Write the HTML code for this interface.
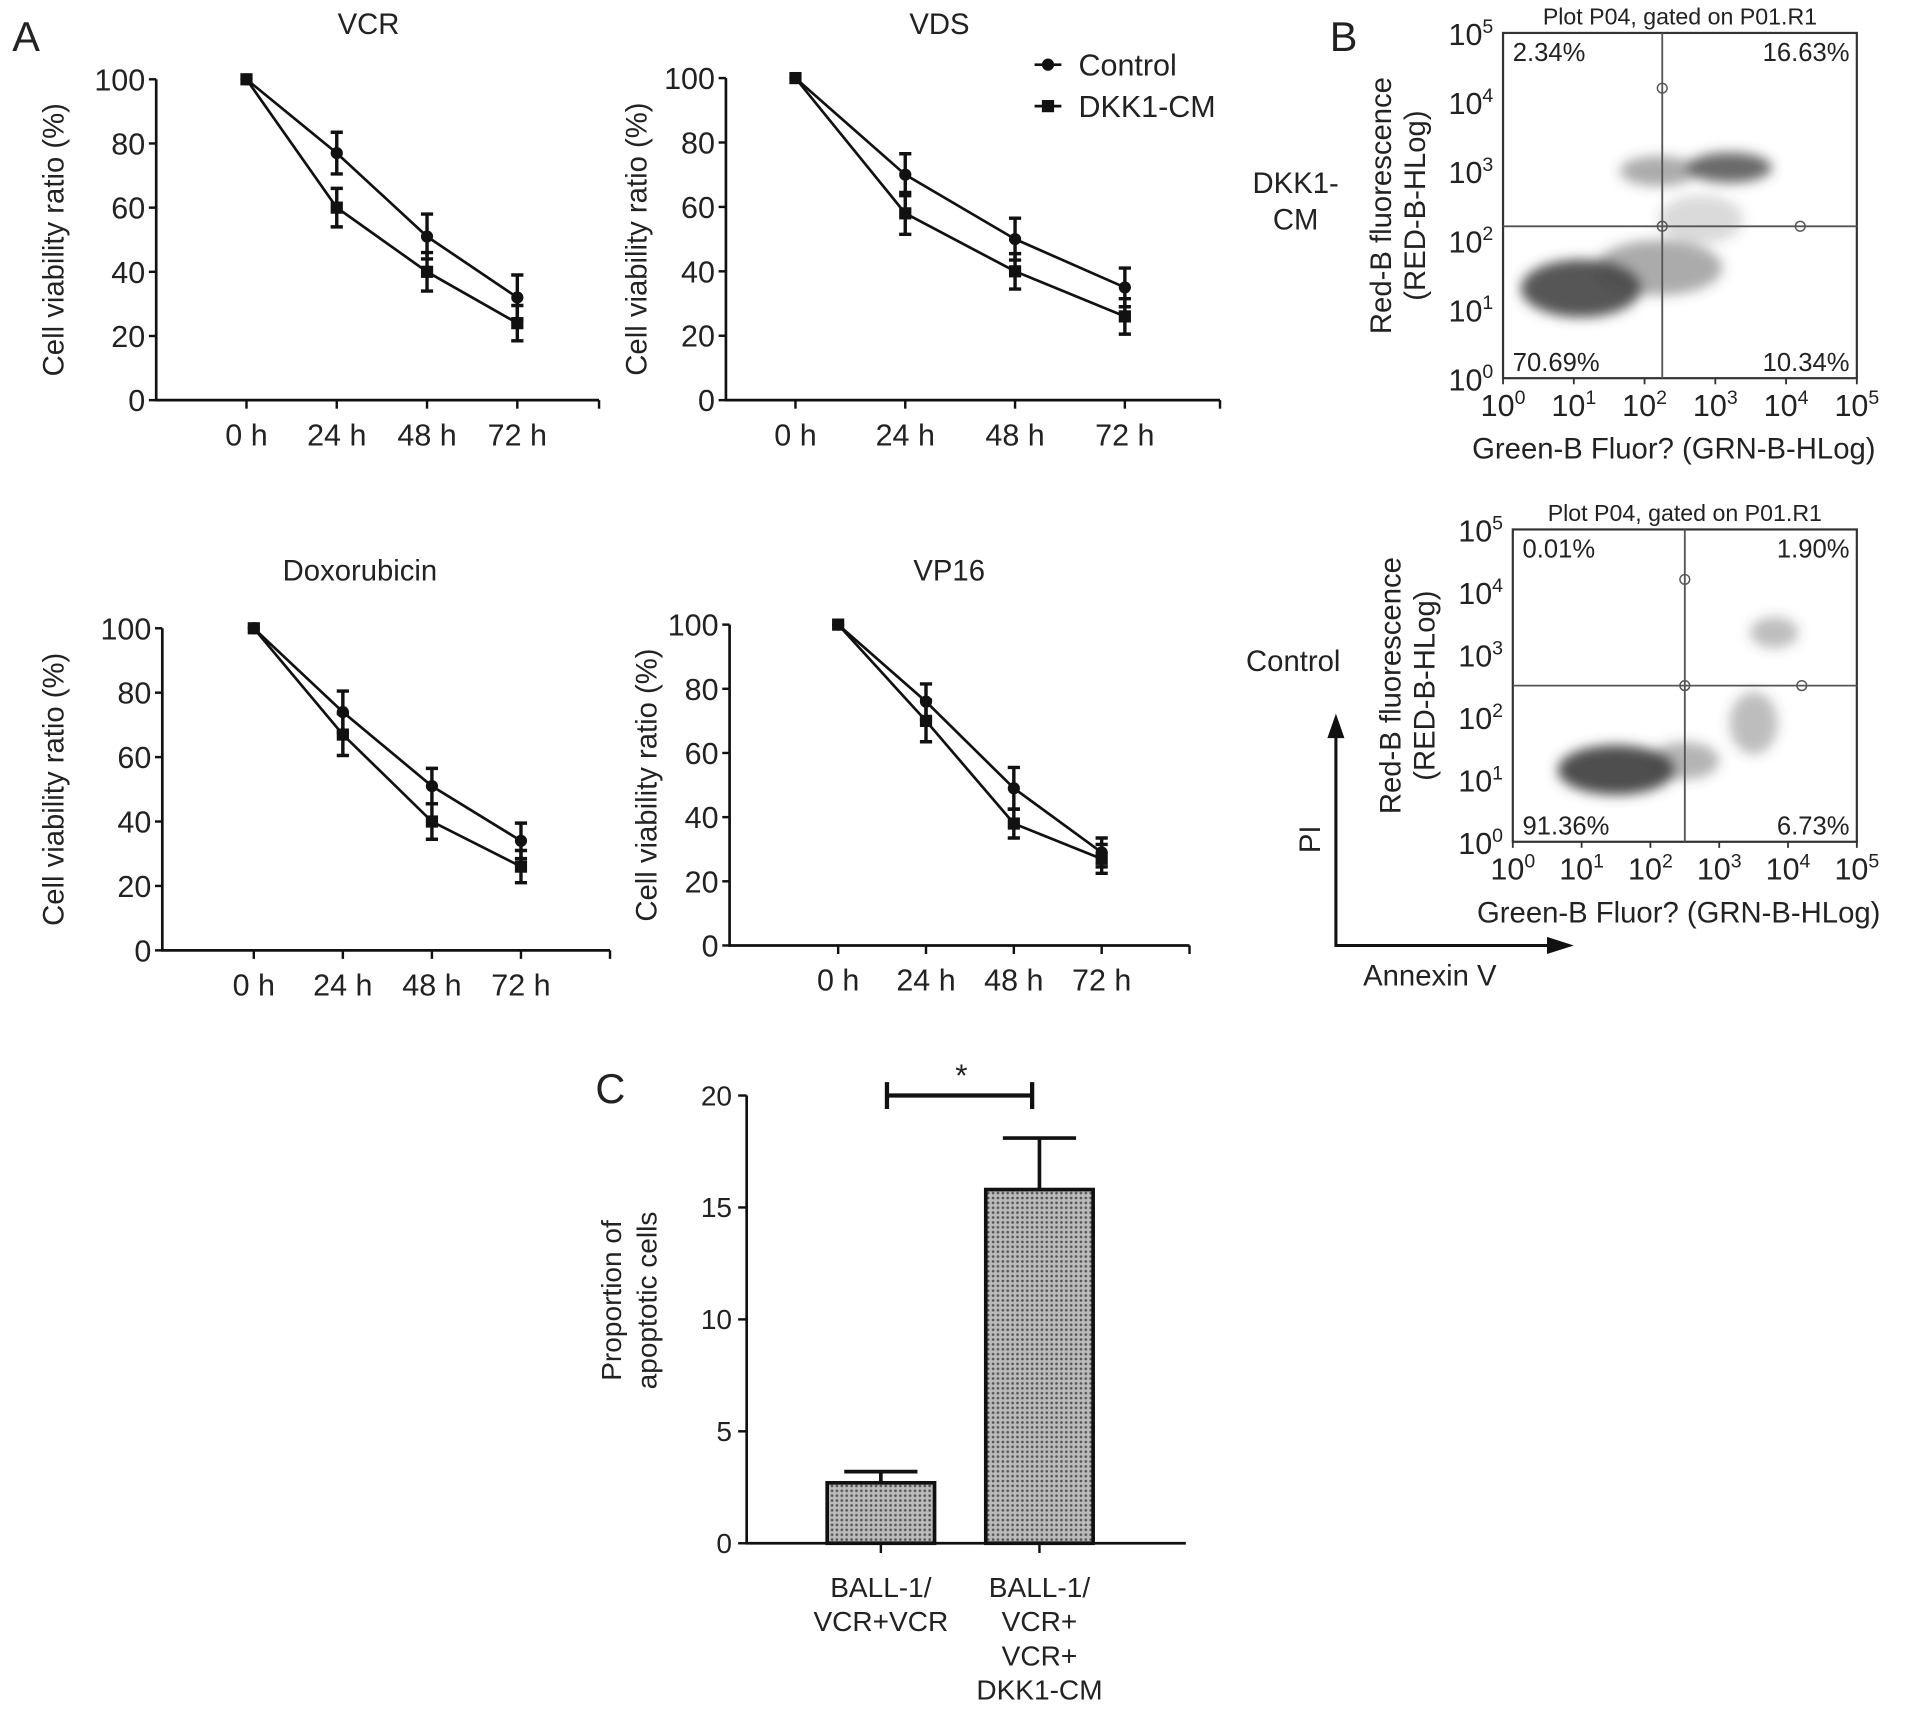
<!DOCTYPE html>
<html><head><meta charset="utf-8"><style>
html,body{margin:0;padding:0;background:#fff;}
svg{display:block;font-family:"Liberation Sans",Arial,sans-serif;}
</style></head><body>
<svg id="fig" width="1913" height="1711" viewBox="0 0 1568 1402.5" xmlns="http://www.w3.org/2000/svg">
<rect width="1568" height="1402.5" fill="#fff"/>
<defs>
<pattern id="dots" width="4" height="4" patternUnits="userSpaceOnUse"><rect width="4" height="4" fill="#bbb"/><circle cx="2" cy="2" r="1.1" fill="#555"/></pattern>
<filter id="blur"><feGaussianBlur stdDeviation="5"/></filter>
</defs>
<g id="root"></g>
</svg>
<script>
const timeLabels = ["0 h","24 h","48 h","72 h"];
const yTicksA = [0,20,40,60,80,100];
const vcrControl = [100,77,51,32];
const vcrControlErr = [0,6.5,7,7];
const vcrDkk = [100,60,40,24];
const vcrDkkErr = [0,6,6,5.5];
const vdsControl = [100,70,50,35];
const vdsControlErr = [0,6.5,6.5,6];
const vdsDkk = [100,58,40,26];
const vdsDkkErr = [0,6.5,5.5,5.5];
const doxControl = [100,74,51,34];
const doxControlErr = [0,6.5,5.5,5.5];
const doxDkk = [100,67,40,26];
const doxDkkErr = [0,6.5,5.5,5];
const vp16Control = [100,76,49,29];
const vp16ControlErr = [0,5.5,6.5,4.5];
const vp16Dkk = [100,70,38,27];
const vp16DkkErr = [0,6.5,4.5,4.5];
const barCategories = [["BALL-1/","VCR+VCR"],["BALL-1/","VCR+","VCR+","DKK1-CM"]];
const barValues = [2.7,15.8];
const barErrors = [0.5,2.3];
const barTicks = [0,5,10,15,20];
// flow clusters: [log10 x, log10 y, rx(decades), ry(decades), opacity]
const flowDkkClusters = [[1.1,1.3,0.85,0.42,0.9],[2.2,1.6,0.9,0.4,0.45],[3.2,3.05,0.6,0.22,0.8],[2.2,3.0,0.55,0.22,0.45],[2.8,2.3,0.6,0.35,0.2]];
const flowCtrlClusters = [[1.5,1.15,0.85,0.4,0.95],[2.5,1.3,0.5,0.3,0.4],[3.5,1.9,0.35,0.5,0.35],[3.8,3.35,0.35,0.25,0.35]];
const flowDkkPct = ["2.34%","16.63%","70.69%","10.34%"];
const flowCtrlPct = ["0.01%","1.90%","91.36%","6.73%"];

const NS="http://www.w3.org/2000/svg";
const root=document.getElementById('root');
function el(tag,attrs,parent,text){const e=document.createElementNS(NS,tag);for(const k in attrs)e.setAttribute(k,attrs[k]);if(text!==undefined)e.textContent=text;(parent||root).appendChild(e);return e;}
function txt(x,y,s,size,anchor,parent,extra){const t=el('text',Object.assign({x:x,y:y,'font-size':size,'text-anchor':anchor||'middle',fill:'#222'},extra||{}),parent,s);return t;}

function lineChart(cfg){
  const g=el('g',{});
  
  
  const {ax,y100,y0,xs,xend}=cfg;
  const ys=v=>y0+(y100-y0)*v/100;
  const xsc=i=>xs[0]+(xs[1]-xs[0])*i;
  el('path',{d:`M${ax} ${y100} V${y0} H${xend}`,stroke:'#111','stroke-width':2.2,fill:'none'},g);
  yTicksA.forEach(v=>{el('line',{x1:ax-6,x2:ax,y1:ys(v),y2:ys(v),stroke:'#111','stroke-width':2},g);
    const t=txt(ax-9,ys(v)+9,String(v),25,'end',g);});
  el('line',{x1:xend,x2:xend,y1:y0,y2:y0+7,stroke:'#111','stroke-width':2},g);
  timeLabels.forEach((s,i)=>{el('line',{x1:xsc(i),x2:xsc(i),y1:y0,y2:y0+7,stroke:'#111','stroke-width':2},g);
    const t=txt(xsc(i),y0+37,s,25,'middle',g);});
  const ttl=txt(cfg.tx,cfg.ty,cfg.title,24,'middle',g);
  
  const yl=txt(0,0,'Cell viability ratio (%)',24,'middle',g,{transform:`translate(${cfg.lx},${(y100+y0)/2}) rotate(-90)`});
  
  [[cfg.c,cfg.ce,'control','circle'],[cfg.d,cfg.de,'dkk1-cm','square']].forEach(([vals,errs,nm,shape])=>{
    const pts=vals.map((v,i)=>`${xsc(i)},${ys(v)}`).join(' ');
    const pl=el('polyline',{points:pts,fill:'none',stroke:'#111','stroke-width':2.2},g);
    
    vals.forEach((v,i)=>{const x=xsc(i),y=ys(v),e=errs[i];
      if(e>0){el('path',{d:`M${x} ${ys(v+e)} V${ys(v-e)} M${x-5} ${ys(v+e)} H${x+5} M${x-5} ${ys(v-e)} H${x+5}`,stroke:'#111','stroke-width':2.8,fill:'none'},g);}
      let m;
      if(shape==='circle'){m=el('circle',{cx:x,cy:y,r:5,fill:'#111'},g);}else{m=el('rect',{x:x-5,y:y-5,width:10,height:10,fill:'#111'},g);}
      });
  });
}
lineChart({name:'vcr-chart',title:'VCR',tx:302,ty:28,ax:128,y100:65,y0:328,xs:[202,276],xend:491,lx:52,c:vcrControl,ce:vcrControlErr,d:vcrDkk,de:vcrDkkErr});
lineChart({name:'vds-chart',title:'VDS',tx:770,ty:28,ax:595,y100:64,y0:328,xs:[652,742],xend:1000,lx:530,c:vdsControl,ce:vdsControlErr,d:vdsDkk,de:vdsDkkErr});
lineChart({name:'doxorubicin-chart',title:'Doxorubicin',tx:295,ty:476,ax:133,y100:515,y0:779,xs:[208,281],xend:500,lx:52,c:doxControl,ce:doxControlErr,d:doxDkk,de:doxDkkErr});
lineChart({name:'vp16-chart',title:'VP16',tx:778,ty:476,ax:598,y100:512,y0:775,xs:[687,759],xend:975,lx:538,c:vp16Control,ce:vp16ControlErr,d:vp16Dkk,de:vp16DkkErr});

const lg=el('g',{});


el('line',{x1:848,x2:870,y1:53,y2:53,stroke:'#111','stroke-width':2.2},lg);el('circle',{cx:859,cy:53,r:5,fill:'#111'},lg);
txt(884,62,'Control',25,'start',lg);
el('line',{x1:848,x2:870,y1:87,y2:87,stroke:'#111','stroke-width':2.2},lg);el('rect',{x:854,y:82,width:10,height:10,fill:'#111'},lg);
txt(884,96,'DKK1-CM',25,'start',lg);

[['A',10,42],['B',1090,42],['C',488,904]].forEach(([s,x,y])=>{const t=txt(x,y,s,34,'start');});

function flowPlot(cfg){
  const g=el('g',{});
  
  
  const {x0,x1,y0,y1}=cfg;
  const sx=v=>x0+(x1-x0)*v/5, sy=v=>y1-(y1-y0)*v/5;
  const cg=el('g',{filter:'url(#blur)'},g);
  cfg.clusters.forEach(c=>{const e=el('ellipse',{cx:sx(c[0]),cy:sy(c[1]),rx:(x1-x0)*c[2]/5,ry:(y1-y0)*c[3]/5,fill:'#444','fill-opacity':c[4]},cg);
    });
  el('rect',{x:x0,y:y0,width:x1-x0,height:y1-y0,fill:'none',stroke:'#333','stroke-width':1.8},g);
  el('line',{x1:sx(cfg.gx),x2:sx(cfg.gx),y1:y0,y2:y1,stroke:'#555','stroke-width':1.5},g);
  el('line',{x1:x0,x2:x1,y1:sy(cfg.gy),y2:sy(cfg.gy),stroke:'#555','stroke-width':1.5},g);
  [[sx(cfg.gx),sy(4.2)],[sx(cfg.gx),sy(cfg.gy)],[sx(4.2),sy(cfg.gy)]].forEach(p=>el('circle',{cx:p[0],cy:p[1],r:4,fill:'none',stroke:'#555','stroke-width':1.2},g));
  for(let d=0;d<=5;d++){
    const t=el('text',{x:x0-8,y:sy(d)+10,'font-size':25,'text-anchor':'end',fill:'#222'},g);t.innerHTML='10<tspan dy="-10" font-size="16">'+d+'</tspan>';
    
    const u=el('text',{x:sx(d),y:y1+31,'font-size':25,'text-anchor':'middle',fill:'#222'},g);u.innerHTML='10<tspan dy="-10" font-size="16">'+d+'</tspan>';
    
    el('line',{x1:sx(d),x2:sx(d),y1:y1,y2:y1+5,stroke:'#333','stroke-width':1.5},g);
  }
  txt((x0+x1)/2,y0-7,'Plot P04, gated on P01.R1',19,'middle',g);
  const p=cfg.pct;
  txt(x0+8,y0+23,p[0],21,'start',g);txt(x1-6,y0+23,p[1],21,'end',g);
  txt(x0+8,y1-6,p[2],21,'start',g);txt(x1-6,y1-6,p[3],21,'end',g);
  const xt=txt((x0+x1)/2-5,y1+66,'Green-B Fluor? (GRN-B-HLog)',24,'middle',g);
  
  const cy=(y0+y1)/2;
  const yt=txt(0,0,'Red-B fluorescence',24,'middle',g,{transform:`translate(${x0-92},${cy}) rotate(-90)`});
  
  txt(0,0,'(RED-B-HLog)',24,'middle',g,{transform:`translate(${x0-64},${cy}) rotate(-90)`});
  cfg.side.forEach((s,i)=>txt(cfg.sx,cfg.sy+i*30,s,24,'middle',g));
}
flowPlot({name:'flow-dkk1-cm',x0:1232,x1:1522,y0:27,y1:310,gx:2.25,gy:2.2,clusters:flowDkkClusters,pct:flowDkkPct,side:['DKK1-','CM'],sx:1062,sy:158});
flowPlot({name:'flow-control',x0:1240,x1:1522,y0:434,y1:690,gx:2.5,gy:2.5,clusters:flowCtrlClusters,pct:flowCtrlPct,side:['Control'],sx:1060,sy:550});

const ar=el('g',{});


el('path',{d:'M1095 600 V775 H1275',stroke:'#111','stroke-width':2.5,fill:'none'},ar);
el('polygon',{points:'1088,605 1095,585 1102,605',fill:'#111'},ar);
el('polygon',{points:'1268,768 1290,775 1268,782',fill:'#111'},ar);
txt(0,0,'PI',24,'middle',ar,{transform:'translate(1082,688) rotate(-90)'});
txt(1172,808,'Annexin V',24,'middle',ar);

const bg=el('g',{});


const bx0=612,by0=1265,by20=898,bxend=972;
const bys=v=>by0+(by20-by0)*v/20;
const bCenters=[722,852], bW=88;
barValues.forEach((v,i)=>{
  const c=bCenters[i];
  const eb=el('path',{d:`M${c} ${bys(v)} V${bys(v+barErrors[i])} M${c-30} ${bys(v+barErrors[i])} H${c+30}`,stroke:'#111','stroke-width':3,fill:'none'},bg);
  
  const r=el('rect',{x:c-bW/2,y:bys(v),width:bW,height:by0-bys(v),fill:'url(#dots)',stroke:'#111','stroke-width':3},bg);
  
  el('line',{x1:c,x2:c,y1:by0,y2:by0+8,stroke:'#111','stroke-width':2},bg);
  barCategories[i].forEach((s,j)=>txt(c,by0+44+j*28,s,23,'middle',bg));
});
el('path',{d:`M${bx0} ${by20} V${by0} H${bxend}`,stroke:'#111','stroke-width':2.2,fill:'none'},bg);
barTicks.forEach(v=>{el('line',{x1:bx0-7,x2:bx0,y1:bys(v),y2:bys(v),stroke:'#111','stroke-width':2},bg);
  const t=txt(bx0-12,bys(v)+8,String(v),23,'end',bg);});
txt(0,0,'Proportion of',23,'middle',bg,{transform:`translate(509,1066) rotate(-90)`});
txt(0,0,'apoptotic cells',23,'middle',bg,{transform:`translate(538,1066) rotate(-90)`});
const sig=el('path',{d:'M727 887 V909 M727 898 H846 M846 887 V909',stroke:'#111','stroke-width':3.5,fill:'none'},bg);


txt(788,890,'*',26,'middle',bg);
</script>
</body></html>
